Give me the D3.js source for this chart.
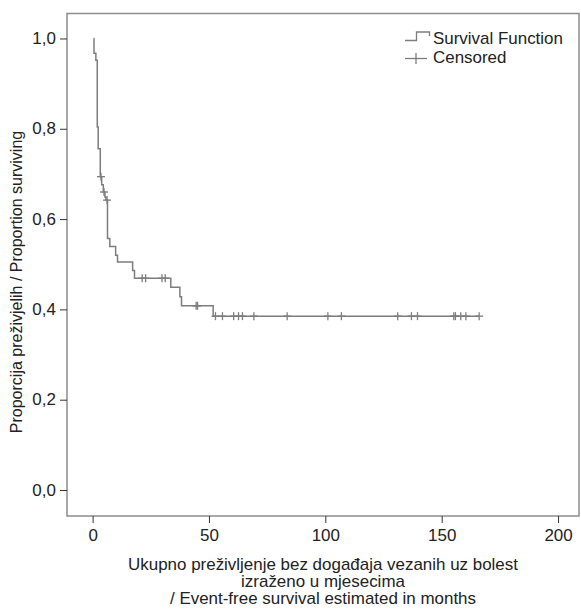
<!DOCTYPE html>
<html>
  <head>
    <meta charset="utf-8">
    <title>Event-free survival</title>
    <style>
      body { margin: 0; background: #fff; }
      text { font-family: "Liberation Sans", Arial, sans-serif; fill: #222; }
      .axis .domain { display: none; }
      .axis line { stroke: #333; }
      .axis text { font-size: 16px; }
    </style>
  </head>
  <body>
    <div id="chart"></div>

    <script src="https://d3js.org/d3.v7.min.js"></script>
    <script>
      // Kaplan-Meier steps: event times (months) and survival after each drop
      const startTime = 0.5;
      const eventTimes = [0.6, 1.4, 2.0, 2.4, 3.3, 3.9, 4.6, 5.3, 5.7, 6.4, 7.4, 9.9, 10.7,
                          17.2, 18.0, 33.6, 37.5, 38.2, 51.8];
      const survival   = [0.967, 0.952, 0.804, 0.756, 0.694, 0.676, 0.660, 0.649, 0.642, 0.557, 0.539, 0.520, 0.505,
                          0.486, 0.469, 0.449, 0.428, 0.408, 0.385];
      const endTime = 166.1;

      // censored observations (months)
      const censoredTimes = [3.6, 4.9, 6.2, 21.3, 22.8, 29.8, 31.2, 44.5, 45.1,
                             52.8, 55.8, 60.6, 62.7, 64.4, 69.3, 83.6, 101.1, 106.9,
                             131.1, 137.0, 139.6, 155.2, 155.9, 158.2, 160.4, 166.1];

      const xTicks = [0, 50, 100, 150, 200];
      const yTicks = [0, 0.2, 0.4, 0.6, 0.8, 1.0];
      const legendLabels = ["Survival Function", "Censored"];
      const xTitle = ["Ukupno preživljenje bez događaja vezanih uz bolest",
                      "izraženo u mjesecima",
                      "/ Event-free survival estimated in months"];
      const yTitle = "Proporcija preživjelih / Proportion surviving";

      const W = 581, H = 609;
      const plotL = 67, plotR = 579, plotT = 13.5, plotB = 516;
      const lineColor = "#7d7d7d";
      const stretch = "scale(1.06,1)";  // the original type is a bit wider than Liberation Sans

      const svg = d3.select("#chart").append("svg")
        .attr("width", W)
        .attr("height", H);

      const x = d3.scaleLinear().domain([-11, 209]).range([plotL, plotR]);
      const y = d3.scaleLinear().domain([-0.0576, 1.0553]).range([plotB, plotT]);

      // frame
      svg.append("rect")
        .attr("x", plotL).attr("y", plotT)
        .attr("width", plotR - plotL).attr("height", plotB - plotT)
        .attr("fill", "none")
        .attr("stroke", "#8c8c8c")
        .attr("stroke-width", 1.5);

      svg.append("g")
        .attr("class", "axis")
        .attr("transform", `translate(0,${plotB})`)
        .call(d3.axisBottom(x).tickValues(xTicks).tickSize(7).tickPadding(6.3))
        .selectAll("text").attr("transform", stretch);

      svg.append("g")
        .attr("class", "axis")
        .attr("transform", `translate(${plotL},0)`)
        .call(d3.axisLeft(y).tickValues(yTicks).tickSize(7).tickPadding(3.5)
          .tickFormat(d => d.toFixed(1).replace(".", ",")))
        .selectAll("text").attr("transform", stretch);

      // survival step line
      const pts = [[startTime, 1]];
      eventTimes.forEach((t, i) => pts.push([t, survival[i]]));
      pts.push([endTime, survival[survival.length - 1]]);

      const line = d3.line()
        .x(d => x(d[0]))
        .y(d => y(d[1]))
        .curve(d3.curveStepAfter);

      svg.append("path")
        .datum(pts)
        .attr("d", line)
        .attr("fill", "none")
        .attr("stroke", lineColor)
        .attr("stroke-width", 1.5);

      // survival at time t
      function survAt(t) {
        let s = 1;
        eventTimes.forEach((e, i) => { if (e <= t) s = survival[i]; });
        return s;
      }

      const cross = svg.append("g")
        .selectAll("g")
        .data(censoredTimes)
        .join("g")
        .attr("transform", d => `translate(${x(d)},${y(survAt(d))})`);

      cross.append("line")
        .attr("x1", -4).attr("x2", 4)
        .attr("stroke", lineColor).attr("stroke-width", 1.3);
      cross.append("line")
        .attr("y1", -4).attr("y2", 4)
        .attr("stroke", lineColor).attr("stroke-width", 1.3);

      // legend
      const lg = svg.append("g");
      lg.append("path")
        .attr("d", "M405,40.5H416.5V32H429.5V36")
        .attr("fill", "none").attr("stroke", lineColor).attr("stroke-width", 1.3);
      lg.append("line")
        .attr("x1", 405).attr("x2", 427).attr("y1", 58.5).attr("y2", 58.5)
        .attr("stroke", lineColor).attr("stroke-width", 1.3);
      lg.append("line")
        .attr("x1", 416).attr("x2", 416).attr("y1", 53).attr("y2", 64)
        .attr("stroke", lineColor).attr("stroke-width", 1.3);
      lg.selectAll("text")
        .data(legendLabels)
        .join("text")
        .attr("transform", (d, i) => `translate(433,${44 + i * 19.3}) ${stretch}`)
        .attr("font-size", 16)
        .text(d => d);

      // axis titles
      svg.append("g")
        .selectAll("text")
        .data(xTitle)
        .join("text")
        .attr("text-anchor", "middle")
        .attr("font-size", 16)
        .attr("transform", (d, i) => `translate(${(plotL + plotR) / 2},${570 + i * 17.2}) ${stretch}`)
        .text(d => d);

      svg.append("text")
        .attr("text-anchor", "middle")
        .attr("font-size", 16)
        .attr("transform", `translate(22,282) rotate(-90)`)
        .text(yTitle);
    </script>
  </body>
</html>
